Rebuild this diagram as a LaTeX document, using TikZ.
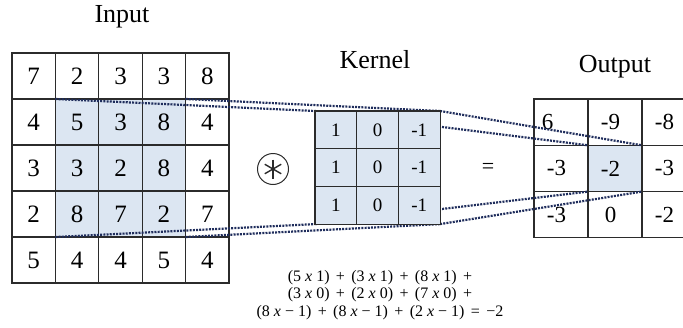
\documentclass[tikz,border=0pt]{standalone}
\usepackage{fontspec}
\setmainfont{Liberation Serif}
\usetikzlibrary{positioning}
\pgfdeclarelayer{front}
\pgfsetlayers{main,front}
\definecolor{hlblue}{HTML}{DCE6F2}
\definecolor{gridgray}{HTML}{2B2B2B}
\definecolor{dotnavy}{HTML}{1F2D5C}
\newcommand{\opgap}{\hspace{0.4em}}
\newcommand{\tm}{\textit{x}}

\begin{document}
\begin{tikzpicture}[
  x=1pt, y=-1pt,
  cell/.style={draw=gridgray, line width=1.1pt, inner sep=0pt, outer sep=0pt},
  incell/.style={cell, minimum width=43.4pt, minimum height=46pt, font=\fontsize{25}{25}\selectfont},
  kcell/.style={cell, fill=hlblue, minimum width=41.7pt, minimum height=37.7pt, font=\fontsize{19}{19}\selectfont},
  outcell/.style={cell, minimum width=54pt, minimum height=46.3pt, font=\fontsize{23}{23}\selectfont,
    execute at begin node={\hspace*{-9pt}}},
  title/.style={font=\fontsize{26}{26}\selectfont},
  proj/.style={draw=dotnavy, line width=2.2pt, dash pattern=on 2pt off 1.2pt}
]
\useasboundingbox (0,0) rectangle (683,327);
\clip (0,0) rectangle (683,327);

% titles
\node[title] (intitle) at (122,17) {Input};
\node[title] (ktitle) at (375,60) {Kernel};
\node[title] (outtitle) at (615,67) {Output};

% input grid
\foreach \vals [count=\r from 0] in {{7,2,3,3,8},{4,5,3,8,4},{3,3,2,8,4},{2,8,7,2,7},{5,4,4,5,4}}
  \foreach \v [count=\c from 0] in \vals {
    \pgfmathtruncatemacro\shade{100*and(and(\r>0,\r<4),and(\c>0,\c<4))}
    \node[incell, fill=hlblue!\shade!white] (in-\r-\c) at (33.7+43.4*\c, 76+46*\r) {\v};
  }

% output grid
\foreach \vals [count=\r from 0] in {{\hspace*{-18pt}6,-9,-8},{-3,-2,-3},{-3,0,-2}}
  \foreach \v [count=\c from 0] in \vals {
    \pgfmathtruncatemacro\shade{100*and(\r==1,\c==1)}
    \node[outcell, fill=hlblue!\shade!white] (out-\r-\c) at (561+54*\c, 122.15+46.3*\r) {\v};
  }

% kernel sits above the dotted lines
\begin{pgfonlayer}{front}
\foreach \vals [count=\r from 0] in {{1,0,-1},{1,0,-1},{1,0,-1}}
  \foreach \v [count=\c from 0] in \vals
    \node[kcell] (ker-\r-\c) at (335.85+41.7*\c, 129.85+37.7*\r) {\v};
\end{pgfonlayer}

% operators
\node[draw=gridgray, circle, line width=1pt, minimum size=31pt, inner sep=0pt] (conv) at (273,169) {};
\foreach \a in {90,30,150}
  \draw[line width=1.4pt, draw=gridgray] (conv.center) ++(\a:9.5pt) -- ++(\a+180:19pt);
\node[font=\fontsize{22}{22}\selectfont] (eq) at (488,168) {=};

% projections
\draw[proj] (in-1-1.north west) -- (ker-0-0.north west);
\draw[proj] (in-1-3.north east) -- (ker-0-2.north east);
\draw[proj] (in-3-1.south west) -- (ker-2-0.south west);
\draw[proj] (in-3-3.south east) -- (ker-2-2.south east);
\draw[proj] (ker-0-0.north west) -- (out-1-1.north west);
\draw[proj] (ker-0-2.north east) -- (out-1-1.north east);
\draw[proj] (ker-2-0.south west) -- (out-1-1.south west);
\draw[proj] (ker-2-2.south east) -- (out-1-1.south east);

% worked sum
\node[align=center, font=\fontsize{16}{17.5}\selectfont] (sum) at (380,295)
  {(5 \tm{} 1)\opgap+\opgap(3 \tm{} 1)\opgap+\opgap(8 \tm{} 1)\opgap+\\
   (3 \tm{} 0)\opgap+\opgap(2 \tm{} 0)\opgap+\opgap(7 \tm{} 0)\opgap+\\
   (8 \tm{} − 1)\opgap+\opgap(8 \tm{} − 1)\opgap+\opgap(2 \tm{} − 1)\opgap=\opgap−2};
\end{tikzpicture}
\end{document}
